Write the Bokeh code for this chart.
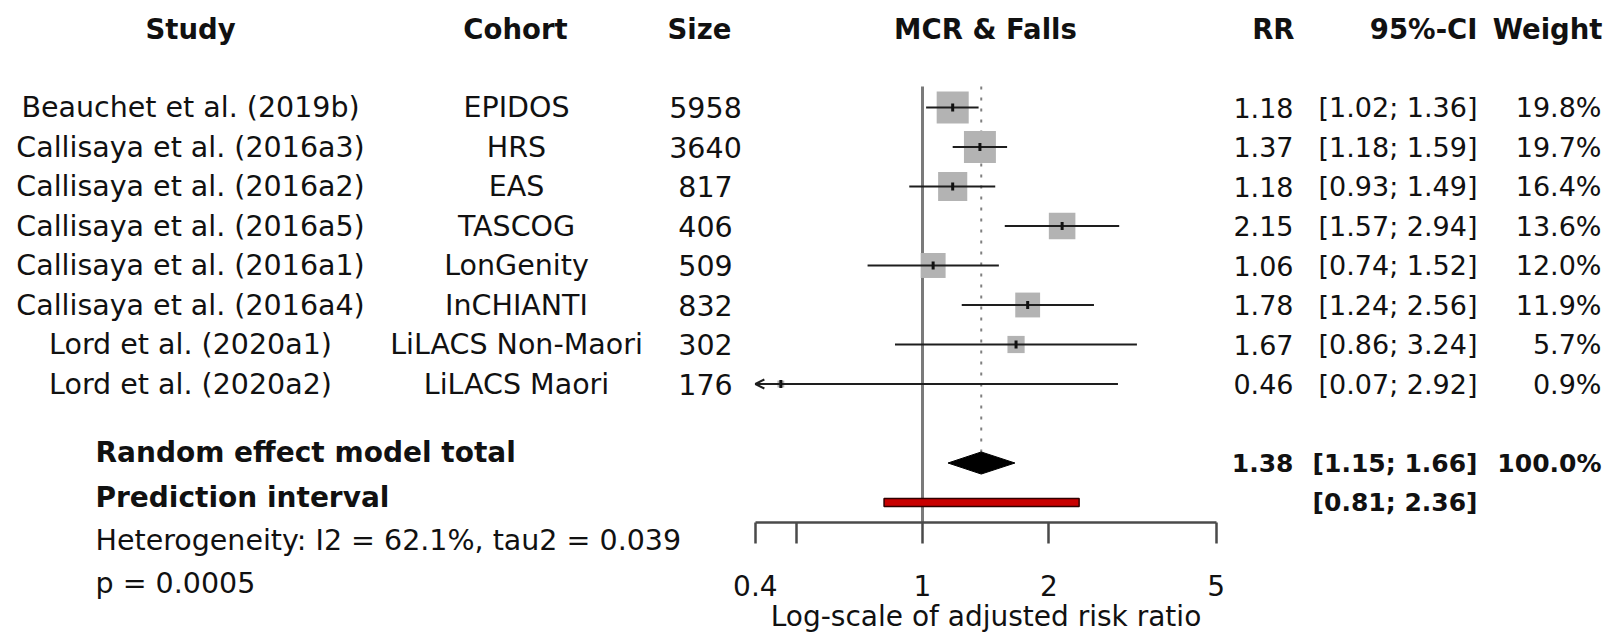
import math
from bokeh.plotting import figure
from bokeh.models import (ColumnDataSource, Range1d, LinearScale, LogAxis, FixedTicker,
                          NumeralTickFormatter, Arrow, OpenHead)
from bokeh.core.properties import value
from bokeh.embed import file_html
from bokeh.resources import INLINE

# ---------------- data ----------------
studies = ["Beauchet et al. (2019b)", "Callisaya et al. (2016a3)", "Callisaya et al. (2016a2)",
           "Callisaya et al. (2016a5)", "Callisaya et al. (2016a1)", "Callisaya et al. (2016a4)",
           "Lord et al. (2020a1)", "Lord et al. (2020a2)"]
cohorts = ["EPIDOS", "HRS", "EAS", "TASCOG", "LonGenity", "InCHIANTI",
           "LiLACS Non-Maori", "LiLACS Maori"]
sizes = [5958, 3640, 817, 406, 509, 832, 302, 176]
rr = [1.18, 1.37, 1.18, 2.15, 1.06, 1.78, 1.67, 0.46]
ci_low = [1.02, 1.18, 0.93, 1.57, 0.74, 1.24, 0.86, 0.07]
ci_high = [1.36, 1.59, 1.49, 2.94, 1.52, 2.56, 3.24, 2.92]
weights = [19.8, 19.7, 16.4, 13.6, 12.0, 11.9, 5.7, 0.9]

pooled_rr = 1.38
pooled_ci = [1.15, 1.66]
pooled_weight = 100.0
pred_interval = [0.81, 2.36]
heterogeneity_text = "Heterogeneity: I2 = 62.1%, tau2 = 0.039"
p_text = "p = 0.0005"
headers = ["Study", "Cohort", "Size", "MCR & Falls", "RR", "95%-CI", "Weight"]
axis_ticks = [0.4, 1, 2, 5]
axis_minor_ticks = [0.5]
axis_limits = [0.4, 5]
axis_title = "Log-scale of adjusted risk ratio"

# ---------------- layout ----------------
W, H = 1608, 636
ROW1_Y, ROW_H = 107, 39.5
X_ONE, PX_DECADE = 922, 420

y_range = Range1d(start=1 + (H - ROW1_Y) / ROW_H, end=1 + (0 - ROW1_Y) / ROW_H)
x_range = Range1d(10 ** ((0 - X_ONE) / PX_DECADE), 10 ** ((W - X_ONE) / PX_DECADE))

p = figure(width=W, height=H, x_axis_type="log", x_range=x_range, y_range=y_range,
           output_backend="svg", toolbar_location=None, min_border=0,
           x_axis_location=None, y_axis_location=None)
p.outline_line_color = None
p.background_fill_color = "white"
p.border_fill_color = "white"
p.xgrid.visible = False
p.ygrid.visible = False
p.extra_x_ranges = {"px": Range1d(0, W)}
p.extra_x_scales = {"px": LinearScale()}

FONT = value("DejaVu Sans")
TXT = "#111111"

rows = list(range(1, len(studies) + 1))
top_line = 0.47
axis_row = 11.5
pooled_row = 10
pred_row = 11
diamond_half = 0.28

# reference lines
p.segment(x0=[1], y0=[top_line], x1=[1], y1=[axis_row], line_color="#7a7a7a", line_width=3)
p.segment(x0=[pooled_rr], y0=[top_line], x1=[pooled_rr], y1=[pooled_row - diamond_half],
          line_color="#808080", line_width=2, line_dash="3 8")

# study squares, CIs, point marks
src = ColumnDataSource(dict(
    y=rows, rr=rr,
    lo=[max(v, axis_limits[0]) for v in ci_low],
    hi=[min(v, axis_limits[1]) for v in ci_high],
    sq=[7.2 * math.sqrt(w) for w in weights],
    study=studies, cohort=cohorts, size=[str(s) for s in sizes],
    rr_txt=[f"{v:.2f}" for v in rr],
    ci_txt=[f"[{a:.2f}; {b:.2f}]" for a, b in zip(ci_low, ci_high)],
    w_txt=[f"{w:.1f}%" for w in weights],
))
p.scatter(x="rr", y="y", size="sq", marker="square", source=src,
          fill_color="#b3b3b3", line_color=None)
p.segment(x0="lo", y0="y", x1="hi", y1="y", source=src, line_color="#1e1e1e", line_width=2)
p.scatter(x="rr", y="y", marker="dash", angle=math.pi / 2, size=8, line_width=3,
          line_color="#111111", source=src)

# arrows for clipped intervals
clip_rows = [i for i, v in enumerate(ci_low) if v < axis_limits[0]]
arr_src = ColumnDataSource(dict(
    xs=[rr[i] for i in clip_rows], xe=[axis_limits[0] for _ in clip_rows],
    y=[rows[i] for i in clip_rows]))
p.add_layout(Arrow(x_start="xs", y_start="y", x_end="xe", y_end="y", source=arr_src,
                   line_color="#1e1e1e", line_width=2,
                   end=OpenHead(size=9, line_width=2, line_color="#1e1e1e")))

# pooled diamond
p.patch(x=[pooled_ci[0], pooled_rr, pooled_ci[1], pooled_rr],
        y=[pooled_row, pooled_row - diamond_half, pooled_row, pooled_row + diamond_half],
        fill_color="black", line_color="black", line_width=1)

# prediction interval
p.quad(left=[pred_interval[0]], right=[pred_interval[1]],
       top=[pred_row - 0.1], bottom=[pred_row + 0.1],
       fill_color="#c80000", line_color="#300000", line_width=1.5)

# axis
ax = LogAxis(fixed_location=axis_row, bounds=tuple(axis_limits),
             ticker=FixedTicker(ticks=axis_ticks, minor_ticks=axis_minor_ticks),
             formatter=NumeralTickFormatter(format="0.[0]"),
             axis_label=axis_title)
ax.axis_line_color = "#4a4a4a"
ax.axis_line_width = 2.5
ax.major_tick_in = 0
ax.major_tick_out = 21
ax.minor_tick_in = 0
ax.minor_tick_out = 21
ax.major_tick_line_color = "#4a4a4a"
ax.major_tick_line_width = 2.5
ax.minor_tick_line_color = "#4a4a4a"
ax.minor_tick_line_width = 2.5
ax.major_label_text_font = "DejaVu Sans"
ax.major_label_text_font_size = "28px"
ax.major_label_text_color = TXT
ax.major_label_standoff = 32
ax.axis_label_text_font = "DejaVu Sans"
ax.axis_label_text_font_size = "28px"
ax.axis_label_text_font_style = "normal"
ax.axis_label_text_color = TXT
ax.axis_label_standoff = 0
p.add_layout(ax, "below")

# ---------------- texts ----------------
def txt(x, y, text, align, size="28.5px", bold=False, source=None):
    kw = dict(text_font=FONT, text_font_size=value(size), text_align=align,
              text_baseline="middle", text_color=TXT, x_range_name="px")
    if bold:
        kw["text_font_style"] = "bold"
    if source is not None:
        p.text(x=x, y=y, text=text, source=source, **kw)
    else:
        p.text(x=[x], y=[y], text=[text], **kw)

# headers
hdr_row = -1
hdr_pos = [(190, "center"), (515, "center"), (699, "center"), (985, "center"),
           (1294, "right"), (1477, "right"), (1602, "right")]
for h, (x, a) in zip(headers, hdr_pos):
    txt(x, hdr_row, h, a, size="27.5px", bold=True)

# study rows
n = len(rows)
src.data["x_study"] = [190] * n
src.data["x_cohort"] = [516] * n
src.data["x_size"] = [705] * n
src.data["x_rr"] = [1293] * n
src.data["x_ci"] = [1477] * n
src.data["x_w"] = [1601] * n
txt("x_study", "y", "study", "center", source=src)
txt("x_cohort", "y", "cohort", "center", source=src)
txt("x_size", "y", "size", "center", source=src)
txt("x_rr", "y", "rr_txt", "right", size="27px", source=src)
txt("x_ci", "y", "ci_txt", "right", size="27px", source=src)
txt("x_w", "y", "w_txt", "right", size="27px", source=src)

# pooled rows (right)
txt(1293, pooled_row, f"{pooled_rr:.2f}", "right", size="25px", bold=True)
txt(1477, pooled_row, f"[{pooled_ci[0]:.2f}; {pooled_ci[1]:.2f}]", "right", size="25px", bold=True)
txt(1601, pooled_row, f"{pooled_weight:.1f}%", "right", size="25px", bold=True)
txt(1477, pred_row, f"[{pred_interval[0]:.2f}; {pred_interval[1]:.2f}]", "right", size="25px", bold=True)

# bottom-left labels
txt(95, 9.73, "Random effect model total", "left", size="28px", bold=True)
txt(95, 10.87, "Prediction interval", "left", size="28px", bold=True)
txt(95, 11.96, heterogeneity_text, "left")
txt(95, 13.05, p_text, "left")

open("out.html", "w").write(file_html(p, INLINE))
